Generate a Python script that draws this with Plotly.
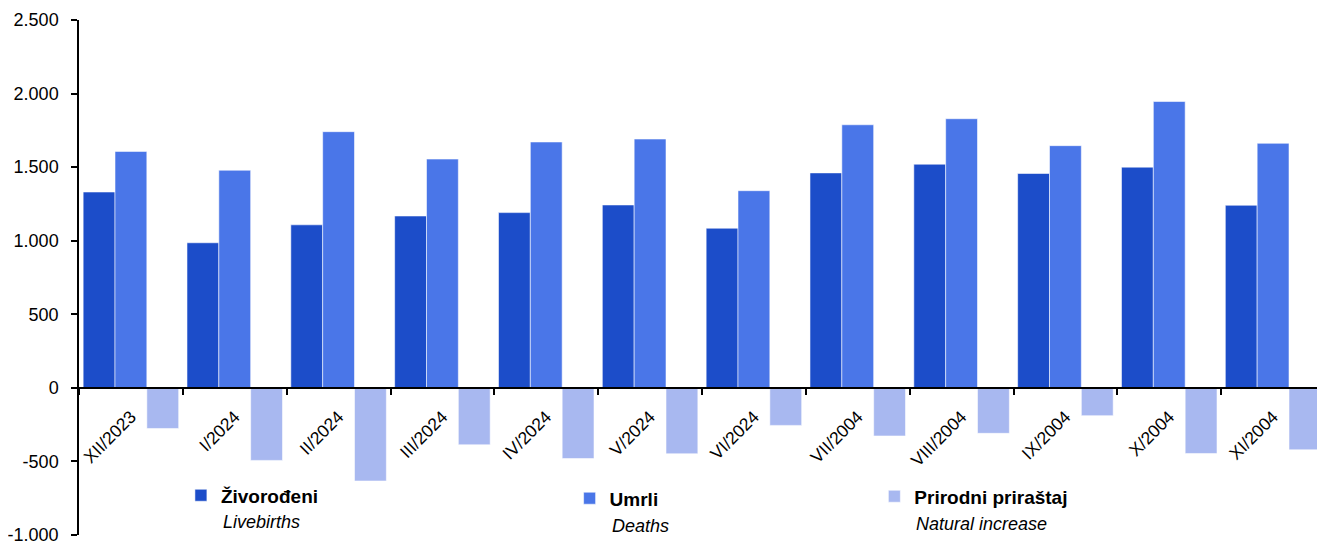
import plotly.graph_objects as go

categories = ["XII/2023", "I/2024", "II/2024", "III/2024", "IV/2024", "V/2024",
              "VI/2024", "VII/2004", "VIII/2004", "IX/2004", "X/2004", "XI/2004"]
livebirths = [1331, 986, 1108, 1168, 1191, 1243, 1085, 1461, 1520, 1457, 1500, 1241]
deaths = [1607, 1479, 1741, 1555, 1671, 1691, 1340, 1788, 1829, 1646, 1946, 1662]
natural_increase = [-276, -493, -633, -387, -480, -448, -255, -327, -309, -189, -446, -421]

y_tick_values = [-1000, -500, 0, 500, 1000, 1500, 2000, 2500]
y_tick_labels = ["-1.000", "-500", "0", "500", "1.000", "1.500", "2.000", "2.500"]

series_names = ["Živorođeni", "Umrli", "Prirodni priraštaj"]
series_names_en = ["Livebirths", "Deaths", "Natural increase"]
colors = ["#1c4dc9", "#4a76e8", "#a8b8f0"]

FONT = "Liberation Sans, Arial, sans-serif"
OFF = 8  # page body margin
W, H = 1325 - OFF, 545 - OFF
ML, MR, MT, MB = 70, 0, 12, 5
PW, PH = W - ML - MR, H - MT - MB


def px_x(sx):
    return (sx - OFF - ML) / PW


def px_y(sy):
    return (H - MB - (sy - OFF)) / PH


fig = go.Figure()
series = [livebirths, deaths, natural_increase]
legend_ids = ["legend", "legend2", "legend3"]
for name, vals, col, lg in zip(series_names, series, colors, legend_ids):
    fig.add_trace(go.Bar(
        x=categories, y=vals, name="<b>" + name + "</b>",
        marker=dict(color=col, line=dict(color="rgba(255,255,255,0.55)", width=1)),
        legend=lg,
    ))

legend_text_x = [222, 611, 916]
legend_text_y = [500, 503, 501]
sub_text_y = [527, 531, 529]

legend_common = dict(orientation="h", xanchor="left", yanchor="middle",
                     bgcolor="rgba(0,0,0,0)", borderwidth=0,
                     font=dict(family=FONT, size=19, color="#000000"),
                     itemwidth=30, tracegroupgap=0)

layout_legends = {}
for lg, tx, ty in zip(legend_ids, legend_text_x, legend_text_y):
    d = dict(legend_common)
    d.update(x=px_x(tx - 42), y=px_y(ty))
    layout_legends[lg] = d

annotations = []
for tx, ty, txt in zip(legend_text_x, sub_text_y, series_names_en):
    annotations.append(dict(
        x=px_x(tx - 2), y=px_y(ty), xref="paper", yref="paper",
        xanchor="left", yanchor="middle", showarrow=False,
        text="<i>" + txt + "</i>",
        font=dict(family=FONT, size=18, color="#000000"),
    ))

fig.update_layout(
    width=W, height=H,
    margin=dict(l=ML, r=MR, t=MT, b=MB),
    paper_bgcolor="white", plot_bgcolor="white",
    barmode="group", bargap=0.08, bargroupgap=0,
    font=dict(family=FONT, size=18, color="#000000"),
    showlegend=True,
    annotations=annotations,
    **layout_legends,
)

fig.update_xaxes(
    type="category", anchor="free", position=1000 / 3500,
    showline=True, linecolor="#000000", linewidth=1.5,
    ticks="outside", tickson="boundaries", ticklen=6, tickwidth=1.5, tickcolor="#000000",
    tickangle=-45, tickfont=dict(family=FONT, size=17.5, color="#000000"),
    ticklabelstandoff=11,
    showgrid=False, zeroline=False,
)
fig.update_yaxes(
    range=[-1000, 2500],
    tickvals=y_tick_values, ticktext=y_tick_labels,
    showline=True, linecolor="#000000", linewidth=1.5,
    ticks="outside", ticklen=6, tickwidth=1.5, tickcolor="#000000",
    tickfont=dict(family=FONT, size=18, color="#000000"),
    ticklabelstandoff=9, ticklabeloverflow="allow",
    showgrid=False, zeroline=False,
)

fig.write_html("out.html")
